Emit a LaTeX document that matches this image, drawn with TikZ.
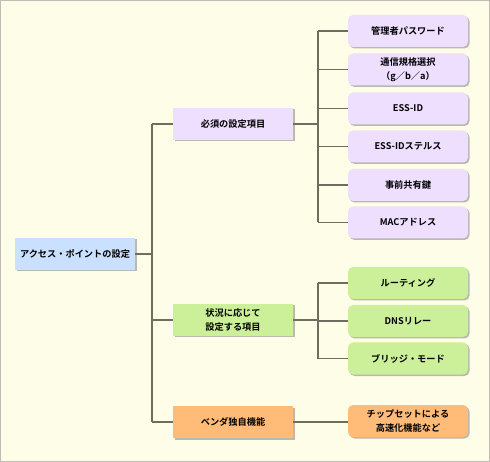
\documentclass[tikz,border=0pt]{standalone}
\usepackage{fontspec}
\setmainfont{Noto Sans CJK JP}[BoldFont={Noto Sans CJK JP Bold}]
\usetikzlibrary{shadows}
\definecolor{bgyellow}{HTML}{FEFEE8}
\definecolor{frame}{HTML}{C2BCB4}
\definecolor{linegray}{HTML}{6E6E60}
\definecolor{rootblue}{HTML}{C9E0FF}
\definecolor{reqpurple}{HTML}{EEDFFF}
\definecolor{condgreen}{HTML}{CCF09A}
\definecolor{vendorange}{HTML}{FFBB77}
\tikzset{
  box/.style={minimum width=120pt, minimum height=32pt, inner sep=0pt, align=center,
    font=\fontsize{9.2pt}{14pt}\selectfont\bfseries,
    drop shadow={shadow xshift=1.5pt, shadow yshift=-1.5pt, fill=black!45, opacity=.6}},
  leaf/.style={box, rounded corners=5pt},
  link/.style={draw=linegray, line width=1.5pt}
}
\begin{document}
\begin{tikzpicture}[x=1pt, y=-1pt]
  % background
  \draw[frame, fill=bgyellow] (0.5, 0.5) rectangle (489.5, 461.5);
  \useasboundingbox (0, 0) rectangle (490, 462);
  % nodes
  \node[box, fill=rootblue] (root) at (75, 254) {アクセス・ポイントの設定};
  \node[box, fill=reqpurple] (req) at (233, 124) {必須の設定項目};
  \node[box, fill=condgreen] (cond) at (233, 320) {状況に応じて\\設定する項目};
  \node[box, fill=vendorange] (vend) at (233, 422) {ベンダ独自機能};
  \node[leaf, fill=reqpurple] (pw) at (408, 31) {管理者パスワード};
  \node[leaf, fill=reqpurple] (std) at (408, 69.5) {通信規格選択\\（g／b／a）};
  \node[leaf, fill=reqpurple] (ess) at (408, 108.5) {ESS-ID};
  \node[leaf, fill=reqpurple] (stealth) at (408, 146.5) {ESS-IDステルス};
  \node[leaf, fill=reqpurple] (psk) at (408, 185) {事前共有鍵};
  \node[leaf, fill=reqpurple] (mac) at (408, 222.5) {MACアドレス};
  \node[leaf, fill=condgreen] (route) at (408, 283) {ルーティング};
  \node[leaf, fill=condgreen] (dns) at (408, 321) {DNSリレー};
  \node[leaf, fill=condgreen] (bridge) at (408, 358.5) {ブリッジ・モード};
  \node[leaf, fill=vendorange] (chip) at (408, 421) {チップセットによる\\高速化機能など};
  % lines
  \coordinate (bus) at (152, 0);
  \coordinate (reqbus) at (318, 0);
  \coordinate (condbus) at (318, 0);
  \draw[link] (root.east) -- (root.east -| bus);
  \draw[link] (req.west -| bus) -- (vend.west -| bus);
  \foreach \n in {req, cond, vend}
    \draw[link] (\n.west -| bus) -- (\n.west);
  \draw[link] (req.east) -- (req.east -| reqbus);
  \draw[link] (pw.west -| reqbus) -- (mac.west -| reqbus);
  \foreach \n in {pw, std, ess, stealth, psk, mac}
    \draw[link] (\n.west -| reqbus) -- (\n.west);
  \draw[link] (cond.east) -- (cond.east -| condbus);
  \draw[link] (route.west -| condbus) -- (bridge.west -| condbus);
  \foreach \n in {route, dns, bridge}
    \draw[link] (\n.west -| condbus) -- (\n.west);
  \draw[link] (vend.east) -- (vend.east -| chip.west);
\end{tikzpicture}
\end{document}
